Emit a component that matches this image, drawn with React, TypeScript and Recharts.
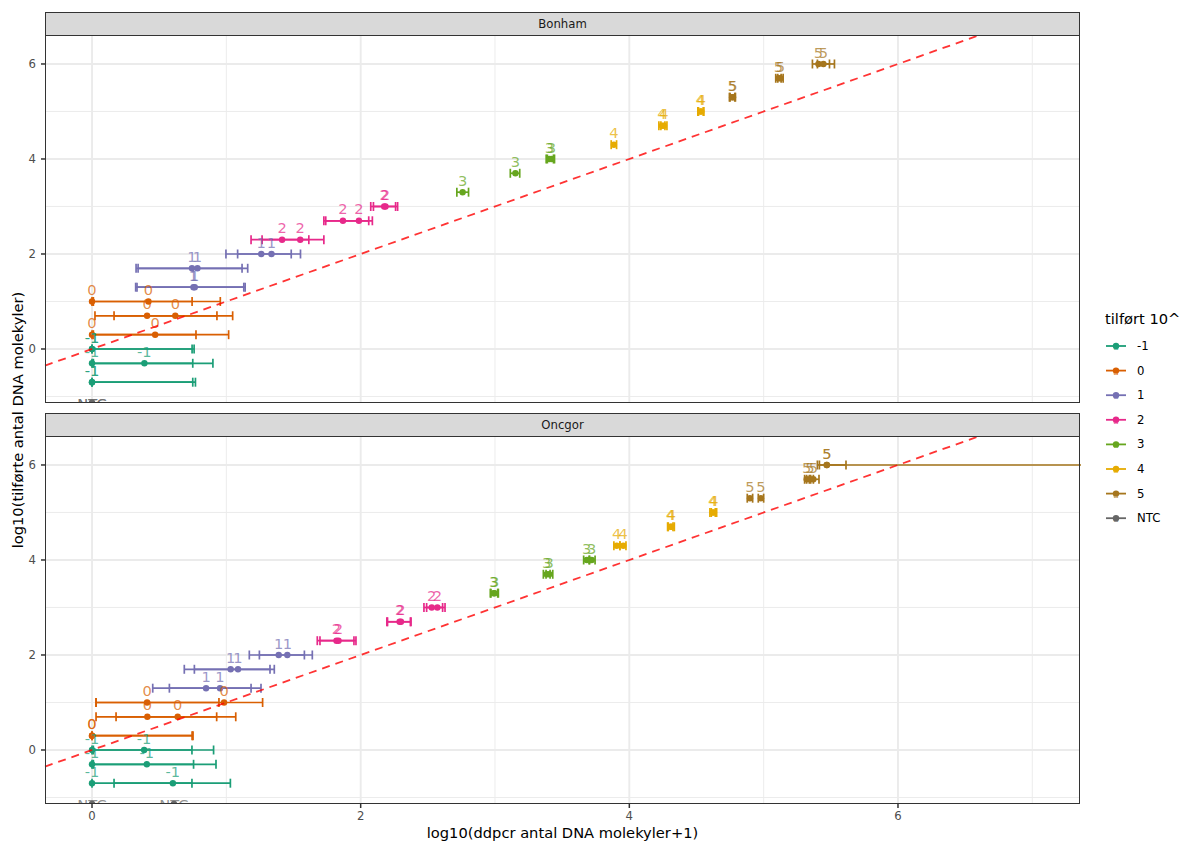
import React from 'react';
import { ComposedChart, Scatter, XAxis, YAxis, ErrorBar, ReferenceLine } from 'recharts';

// ---- scales / ticks ----
const X_MIN = -0.35;
const X_MAX = 7.355;
const Y_MIN = -1.137;
const Y_MAX = 6.61;
const LABEL_NUDGE = 0.25;

const xMajor = [0, 2, 4, 6];
const xMinor = [1, 3, 5, 7];
const yMajor = [0, 2, 4, 6];
const yMinor = [-1, 1, 3, 5];

const groups = ['-1', '0', '1', '2', '3', '4', '5', 'NTC'];
const groupColors = ['#1B9E77', '#D95F02', '#7570B3', '#E7298A', '#66A61E', '#E6AB02', '#A6761D', '#666666'];
const facets = ['Bonham', 'Oncgor'];

type Pt = { x: number; y: number | null; lo: number; hi: number };

// ---- Bonham ----
const bonhamM1: Pt[] = [
  { x: 0, y: 0, lo: 0, hi: 0.745 }, { x: 0, y: 0, lo: 0, hi: 0.76 },
  { x: 0, y: -0.301, lo: 0, hi: 0.75 }, { x: 0.39, y: -0.301, lo: 0.01, hi: 0.9 },
  { x: 0, y: -0.699, lo: 0, hi: 0.75 }, { x: 0, y: -0.699, lo: 0, hi: 0.77 },
];
const bonham0: Pt[] = [
  { x: 0, y: 1, lo: 0, hi: 0.745 }, { x: 0.42, y: 1, lo: 0.01, hi: 0.955 },
  { x: 0.41, y: 0.699, lo: 0.022, hi: 0.93 }, { x: 0.62, y: 0.699, lo: 0.164, hi: 1.047 },
  { x: 0, y: 0.301, lo: 0, hi: 0.774 }, { x: 0.47, y: 0.301, lo: 0.01, hi: 1.017 },
];
const bonham1: Pt[] = [
  { x: 0.755, y: 1.301, lo: 0.325, hi: 1.13 }, { x: 0.765, y: 1.301, lo: 0.335, hi: 1.14 },
  { x: 0.744, y: 1.699, lo: 0.328, hi: 1.117 }, { x: 0.785, y: 1.699, lo: 0.343, hi: 1.159 },
  { x: 1.26, y: 2, lo: 0.997, hi: 1.483 }, { x: 1.336, y: 2, lo: 1.084, hi: 1.552 },
];
const bonham2: Pt[] = [
  { x: 1.415, y: 2.301, lo: 1.184, hi: 1.614 }, { x: 1.55, y: 2.301, lo: 1.266, hi: 1.726 },
  { x: 1.868, y: 2.699, lo: 1.726, hi: 2.06 }, { x: 1.987, y: 2.699, lo: 1.74, hi: 2.087 },
  { x: 2.175, y: 3, lo: 2.075, hi: 2.26 }, { x: 2.185, y: 3, lo: 2.095, hi: 2.275 },
];
const bonham3: Pt[] = [
  { x: 2.759, y: 3.301, lo: 2.716, hi: 2.803 },
  { x: 3.152, y: 3.699, lo: 3.114, hi: 3.184 },
  { x: 3.405, y: 4, lo: 3.381, hi: 3.435 }, { x: 3.42, y: 4, lo: 3.39, hi: 3.443 },
];
const bonham4: Pt[] = [
  { x: 3.885, y: 4.301, lo: 3.865, hi: 3.905 },
  { x: 4.243, y: 4.699, lo: 4.22, hi: 4.265 }, { x: 4.258, y: 4.699, lo: 4.235, hi: 4.28 },
  { x: 4.528, y: 5, lo: 4.51, hi: 4.55 }, { x: 4.536, y: 5, lo: 4.515, hi: 4.555 },
];
const bonham5: Pt[] = [
  { x: 4.765, y: 5.301, lo: 4.745, hi: 4.785 }, { x: 4.772, y: 5.301, lo: 4.75, hi: 4.79 },
  { x: 5.11, y: 5.699, lo: 5.09, hi: 5.13 }, { x: 5.125, y: 5.699, lo: 5.105, hi: 5.145 },
  { x: 5.408, y: 6, lo: 5.363, hi: 5.49 }, { x: 5.445, y: 6, lo: 5.4, hi: 5.527 },
];
const bonhamNTC: Pt[] = [
  { x: 0, y: null, lo: 0, hi: 0 }, { x: 0, y: null, lo: 0, hi: 0 },
];

// ---- Oncgor ----
const oncgorM1: Pt[] = [
  { x: 0, y: 0, lo: 0, hi: 0.744 }, { x: 0.388, y: 0, lo: 0.01, hi: 0.905 },
  { x: 0, y: -0.301, lo: 0, hi: 0.756 }, { x: 0.408, y: -0.301, lo: 0.01, hi: 0.923 },
  { x: 0, y: -0.699, lo: 0, hi: 0.744 }, { x: 0.602, y: -0.699, lo: 0.164, hi: 1.03 },
];
const oncgor0: Pt[] = [
  { x: 0.41, y: 1, lo: 0.03, hi: 0.945 }, { x: 0.983, y: 1, lo: 0.03, hi: 1.27 },
  { x: 0.412, y: 0.699, lo: 0.03, hi: 0.928 }, { x: 0.638, y: 0.699, lo: 0.179, hi: 1.07 },
  { x: 0, y: 0.301, lo: 0, hi: 0.745 }, { x: 0, y: 0.301, lo: 0, hi: 0.752 },
];
const oncgor1: Pt[] = [
  { x: 0.849, y: 1.301, lo: 0.452, hi: 1.184 }, { x: 0.953, y: 1.301, lo: 0.576, hi: 1.258 },
  { x: 1.032, y: 1.699, lo: 0.687, hi: 1.325 }, { x: 1.087, y: 1.699, lo: 0.762, hi: 1.357 },
  { x: 1.39, y: 2, lo: 1.171, hi: 1.581 }, { x: 1.454, y: 2, lo: 1.246, hi: 1.64 },
];
const oncgor2: Pt[] = [
  { x: 1.82, y: 2.301, lo: 1.677, hi: 1.95 }, { x: 1.835, y: 2.301, lo: 1.697, hi: 1.965 },
  { x: 2.29, y: 2.699, lo: 2.195, hi: 2.37 }, { x: 2.3, y: 2.699, lo: 2.2, hi: 2.375 },
  { x: 2.529, y: 3, lo: 2.471, hi: 2.61 }, { x: 2.571, y: 3, lo: 2.491, hi: 2.628 },
];
const oncgor3: Pt[] = [
  { x: 2.99, y: 3.301, lo: 2.965, hi: 3.02 }, { x: 2.997, y: 3.301, lo: 2.97, hi: 3.025 },
  { x: 3.385, y: 3.699, lo: 3.36, hi: 3.41 }, { x: 3.404, y: 3.699, lo: 3.38, hi: 3.43 },
  { x: 3.683, y: 4, lo: 3.66, hi: 3.705 }, { x: 3.72, y: 4, lo: 3.7, hi: 3.745 },
];
const oncgor4: Pt[] = [
  { x: 3.906, y: 4.301, lo: 3.885, hi: 3.93 }, { x: 3.955, y: 4.301, lo: 3.93, hi: 3.975 },
  { x: 4.306, y: 4.699, lo: 4.285, hi: 4.325 }, { x: 4.314, y: 4.699, lo: 4.29, hi: 4.335 },
  { x: 4.62, y: 5, lo: 4.6, hi: 4.64 }, { x: 4.63, y: 5, lo: 4.61, hi: 4.65 },
];
const oncgor5: Pt[] = [
  { x: 4.898, y: 5.301, lo: 4.878, hi: 4.918 }, { x: 4.98, y: 5.301, lo: 4.96, hi: 5.0 },
  { x: 5.32, y: 5.699, lo: 5.305, hi: 5.34 }, { x: 5.345, y: 5.699, lo: 5.32, hi: 5.37 },
  { x: 5.37, y: 5.699, lo: 5.35, hi: 5.412 },
  { x: 5.47, y: 6, lo: 5.4, hi: 5.613 }, { x: 5.47, y: 6, lo: 5.415, hi: 9.5 },
];
const oncgorNTC: Pt[] = [
  { x: 0, y: null, lo: 0, hi: 0 }, { x: 0.61, y: null, lo: 0, hi: 0 },
];

const panelData: Pt[][][] = [
  [bonhamM1, bonham0, bonham1, bonham2, bonham3, bonham4, bonham5, bonhamNTC],
  [oncgorM1, oncgor0, oncgor1, oncgor2, oncgor3, oncgor4, oncgor5, oncgorNTC],
];

const FONT = '"DejaVu Sans", Verdana, sans-serif';
const W = 1189;
const PLOT_LEFT = 45;
const PLOT_RIGHT = 1080;

function Panel({ idx }: { idx: number }) {
  const isBottom = idx === 1;
  const height = isBottom ? 433 : 410;
  const margin = isBottom
    ? { top: 26, right: W - PLOT_RIGHT, bottom: 0, left: 0 }
    : { top: 35, right: W - PLOT_RIGHT, bottom: 7, left: 0 };
  const series = panelData[idx];
  const tickStyle = { fill: '#4D4D4D', fontSize: 11.7, fontFamily: FONT };

  return (
    <ComposedChart width={W} height={height} margin={margin}>
      <XAxis
        type="number"
        dataKey="x"
        domain={[X_MIN, X_MAX]}
        allowDataOverflow
        ticks={xMajor}
        hide={!isBottom}
        height={39}
        tickSize={4}
        tickMargin={4}
        axisLine={false}
        tickLine={{ stroke: '#333333', strokeWidth: 1.5 }}
        tick={tickStyle}
        interval={0}
      />
      <YAxis
        type="number"
        dataKey="y"
        domain={[Y_MIN, Y_MAX]}
        allowDataOverflow
        ticks={yMajor}
        width={PLOT_LEFT}
        tickSize={4}
        tickMargin={5}
        axisLine={false}
        tickLine={{ stroke: '#333333', strokeWidth: 1.5 }}
        tick={tickStyle}
        interval={0}
      />
      {xMinor.map((v) => (
        <ReferenceLine key={'xm' + v} x={v} stroke="#EBEBEB" strokeWidth={0.95} zIndex={-50} />
      ))}
      {yMinor.map((v) => (
        <ReferenceLine key={'ym' + v} y={v} stroke="#EBEBEB" strokeWidth={0.95} zIndex={-50} />
      ))}
      {xMajor.map((v) => (
        <ReferenceLine key={'xM' + v} x={v} stroke="#EBEBEB" strokeWidth={1.9} zIndex={-50} />
      ))}
      {yMajor.map((v) => (
        <ReferenceLine key={'yM' + v} y={v} stroke="#EBEBEB" strokeWidth={1.9} zIndex={-50} />
      ))}
      {series.map((pts, gi) => {
        const color = groupColors[gi];
        const data = pts.map((p) => ({
          x: p.x,
          y: p.y === null ? Y_MIN : p.y,
          errX: [p.x - p.lo, p.hi - p.x],
        }));
        return (
          <Scatter
            key={'s' + gi}
            data={data}
            dataKey="y"
            isAnimationActive={false}
            shape={(props: any) => <circle cx={props.cx} cy={props.cy} r={3.2} fill={color} />}
          >
            {groups[gi] !== 'NTC' && (
              <ErrorBar
                dataKey="errX"
                direction="x"
                width={4.5}
                stroke={color}
                strokeWidth={1.7}
                isAnimationActive={false}
              />
            )}
          </Scatter>
        );
      })}
      {series.map((pts, gi) => {
        const color = groupColors[gi];
        const data = pts.map((p) => ({ x: p.x, y: p.y === null ? Y_MIN : p.y + LABEL_NUDGE }));
        return (
          <Scatter
            key={'l' + gi}
            data={data}
            dataKey="y"
            isAnimationActive={false}
            shape={(props: any) => (
              <text
                x={props.cx}
                y={props.cy}
                textAnchor="middle"
                dominantBaseline="central"
                fontFamily={FONT}
                fontSize={14.67}
                fill={color}
                fillOpacity={0.72}
              >
                {groups[gi]}
              </text>
            )}
          />
        );
      })}
      <ReferenceLine
        segment={[{ x: X_MIN, y: X_MIN }, { x: Y_MAX, y: Y_MAX }]}
        stroke="#FF0000"
        strokeOpacity={0.8}
        strokeWidth={1.8}
        strokeDasharray="8 6"
        zIndex={700}
      />
    </ComposedChart>
  );
}

function Legend() {
  const top0 = 346;
  const step = 24.6;
  return (
    <svg width={110} height={260} style={{ position: 'absolute', left: 1085, top: 300 }}>
      <text x={20} y={18} fontFamily={FONT} fontSize={14.67} fill="#000" dominantBaseline="central">
        tilført 10^
      </text>
      {groups.map((g, i) => {
        const cy = top0 - 300 + i * step;
        const c = groupColors[i];
        return (
          <g key={g}>
            <line x1={21} x2={41} y1={cy} y2={cy} stroke={c} strokeWidth={1.8} />
            <circle cx={31} cy={cy} r={3.2} fill={c} />
            <text x={31} y={cy + 4} textAnchor="middle" fontFamily={FONT} fontSize={9} fill={c} fillOpacity={0.8}>
              a
            </text>
            <text x={52} y={cy} fontFamily={FONT} fontSize={11.7} fill="#000" dominantBaseline="central">
              {g}
            </text>
          </g>
        );
      })}
    </svg>
  );
}

export default function App() {
  const stripTops = [12, 412.5];
  const panelTops = [35, 436];
  return (
    <div style={{ position: 'absolute', left: 0, top: 0, width: W, height: 843, background: '#fff', fontFamily: FONT }}>
      <div style={{ position: 'absolute', left: 0, top: 0, width: PLOT_RIGHT + 1, height: 410, overflow: 'hidden' }}>
        <Panel idx={0} />
      </div>
      <div style={{ position: 'absolute', left: 0, top: 410, width: PLOT_RIGHT + 1, height: 433, overflow: 'hidden' }}>
        <Panel idx={1} />
      </div>
      {facets.map((f, i) => (
        <React.Fragment key={f}>
          <div
            style={{
              position: 'absolute',
              left: PLOT_LEFT,
              top: stripTops[i],
              width: PLOT_RIGHT - PLOT_LEFT,
              height: panelTops[i] - stripTops[i],
              boxSizing: 'border-box',
              background: '#D9D9D9',
              border: '1px solid #333333',
              borderBottom: 'none',
              display: 'flex',
              alignItems: 'center',
              justifyContent: 'center',
              fontSize: 11.7,
              color: '#1A1A1A',
            }}
          >
            {f}
          </div>
          <div
            style={{
              position: 'absolute',
              left: PLOT_LEFT,
              top: panelTops[i],
              width: PLOT_RIGHT - PLOT_LEFT,
              height: 368,
              boxSizing: 'border-box',
              border: '1.5px solid #333333',
              pointerEvents: 'none',
            }}
          />
        </React.Fragment>
      ))}
      <div
        style={{
          position: 'absolute',
          left: PLOT_LEFT,
          width: PLOT_RIGHT - PLOT_LEFT,
          top: 824,
          height: 18,
          lineHeight: '18px',
          textAlign: 'center',
          fontSize: 14.67,
          color: '#000',
        }}
      >
        log10(ddpcr antal DNA molekyler+1)
      </div>
      <div
        style={{
          position: 'absolute',
          left: 18,
          top: 420,
          transform: 'translate(-50%, -50%) rotate(-90deg)',
          whiteSpace: 'nowrap',
          fontSize: 14.67,
          lineHeight: '18px',
          color: '#000',
        }}
      >
        log10(tilførte antal DNA molekyler)
      </div>
      <Legend />
    </div>
  );
}
